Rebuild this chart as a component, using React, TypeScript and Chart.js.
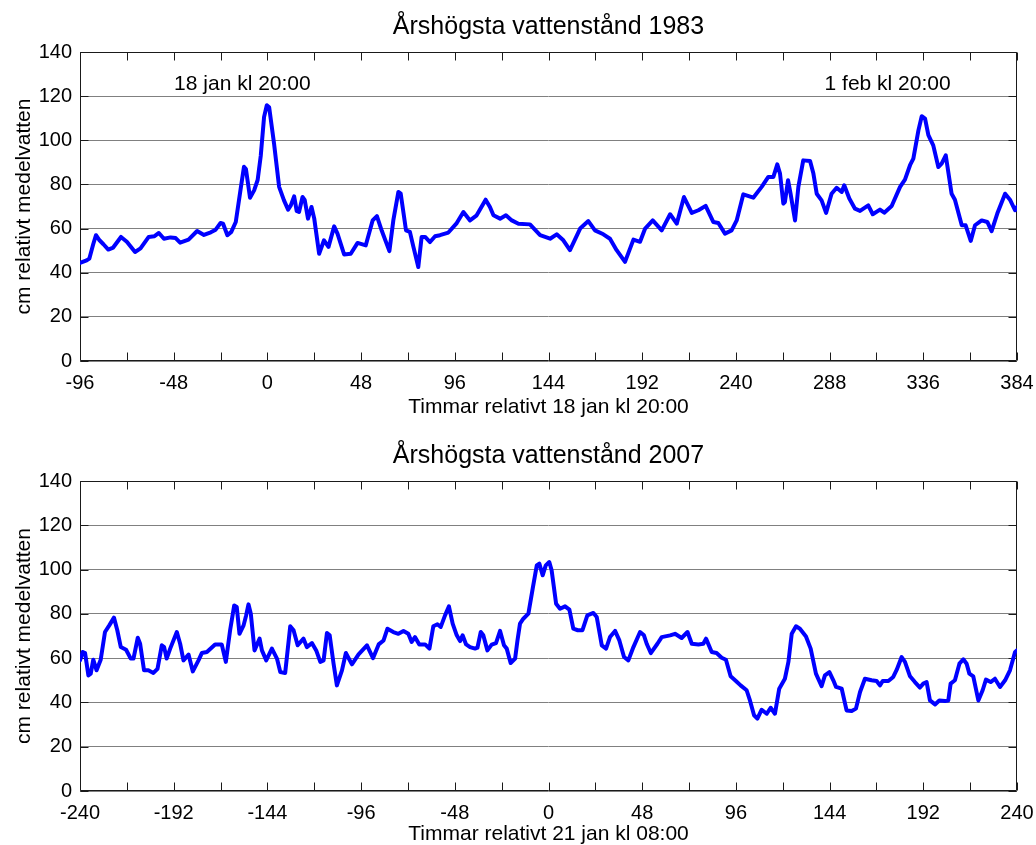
import React, { useEffect, useRef } from 'react';
import { Chart, registerables } from 'chart.js';

Chart.register(...registerables);

const FONT = '"Liberation Sans", Arial, Helvetica, sans-serif';

// ---- 1983 ----
const hours1983 = [
  -96, -92.6, -91.2, -89.2, -87.8, -86, -84, -81.5, -79, -75, -72, -67.8, -65, -60.8, -58, -55.6, -53, -49.6, -47,
  -44.7, -40.4, -36, -32.5, -29, -26.5, -24, -22.7, -20.5, -18.5, -16.2, -13.7, -12, -11, -8.9, -6.8, -5, -3.4, -1.7,
  -0.3, 0.9, 3.4, 6, 8.5, 10.6, 12, 13.7, 15, 16.2, 18, 19.1, 20.8, 22.6, 24, 26.5, 29, 31.3, 34.2, 35.9, 39.3, 42.7,
  46.2, 50.4, 53.9, 56.1, 58.6, 62.5, 64.5, 67.1, 68.3, 71, 73, 74.8, 77.3, 79, 80.8, 83.3, 85.9, 88.4, 92.7, 97,
  100.4, 103.8, 107.2, 111.8, 114, 115.8, 119.2, 122.2, 125.2, 128.6, 134.5, 139.7, 144.8, 148.2, 151.6, 155, 160.2,
  164.4, 167.8, 172.1, 175.5, 178.9, 183.2, 187.5, 190.9, 193.5, 197.4, 202, 206.3, 209.7, 213.4, 217.4, 220.8, 224.5,
  228.4, 231, 234.4, 237.8, 240.4, 243.8, 248.9, 253.2, 256.6, 259.2, 261.2, 262.6, 264.3, 265.1, 266.7, 268, 270.3,
  272, 274.5, 278, 279.7, 281.4, 283.9, 286.2, 289, 291.6, 294.2, 295.5, 298.1, 301, 303.6, 307.8, 310.1, 313.8, 316,
  319.8, 324.1, 326.6, 329.2, 330.9, 333.5, 335.2, 336.9, 338.6, 341.1, 343.7, 345.4, 347.5, 350.5, 352.2, 355.7,
  357.7, 360.3, 362.5, 365.9, 368.8, 371, 373.9, 377.9, 380.4, 383, 384,
];
const level1983 = [
  44.4, 45.6, 46.4, 53, 57, 54.7, 52.9, 50.5, 51.4, 56.2, 54, 49.4, 51, 56.2, 56.5, 58, 55.4, 56, 55.7,
  53.6, 55, 58.9, 57.1, 58.3, 59.5, 62.5, 62.2, 57, 58.5, 63, 78, 88, 87, 74, 77.3, 82, 93, 110.6,
  115.9, 115, 98.5, 78.9, 72.8, 68.6, 70.5, 74.6, 68, 67.5, 74.3, 73, 64.5, 69.8, 64.5, 48.6, 54.7, 51.7, 61, 57.7, 48.3, 48.6,
  53.5, 52.4, 63.7, 65.6, 59, 49.8, 63.7, 76.6, 75.8, 59.2, 58.5, 51.7, 42.6, 56.2, 56.2, 53.9, 56.5, 57, 58.2, 62.5,
  67.5, 63.7, 66, 73.1, 69.8, 66, 64.5, 66, 63.7, 62.2, 61.9, 57, 55.4, 57.4, 54.7, 50.2, 60,
  63.4, 59.2, 57.4, 55.4, 50.2, 44.9, 55, 54, 60, 63.7, 59.2, 66.5, 62.2, 74.3, 67.1, 68.3, 70.3,
  63, 62.5, 57.7, 59.2, 63.7, 75.5, 74, 78.9, 83.4, 83.4, 89.1, 84.9, 71.3, 72, 81.9, 75.8, 63.7,
  78.9, 90.9, 90.6, 84.9, 75.8, 72.8, 67.1, 75.8, 78.5, 76.6, 79.6, 73.6, 69, 68, 70.5, 66.5, 68.6, 67.2,
  70.2, 78.9, 82.2, 88.7, 91.7, 104.5, 110.9, 109.8, 102.3, 97.7, 87.9, 89.4, 93.2, 75.8, 73.1, 61.5,
  61.5, 54.4, 61.5, 63.7, 63, 58.8, 66.8, 75.8, 73.1, 68.3, 69.8,
];

// ---- 2007 ----
const hours2007 = [
  -240, -238.6, -237.4, -235.7, -234.5, -233.2, -231.5, -229.4, -227.2, -225, -222.6, -220.9, -219.1, -216.4, -214,
  -212.6, -210.4, -209.2, -207.2, -205, -202.4, -200.3, -198.1, -196.9, -195.6, -193.8, -190.4, -188.7, -187, -184.4,
  -182.2, -179.3, -177.6, -175, -170.8, -167.4, -165.3, -163.1, -161, -159.7, -158.3, -156.2, -154.9, -153.7, -152.5,
  -150.6, -148, -146.8, -144.6, -141.7, -139.1, -137.4, -134.9, -132.3, -130.6, -128.5, -125.5, -123.8, -121.2, -119,
  -116.9, -115.2, -113.5, -112.1, -110.1, -108.4, -105.8, -103.8, -100.7, -97.3, -93, -89.9, -87, -84.5, -82.5, -79.5,
  -76.9, -74.3, -71.8, -70.1, -68.4, -66.2, -63.2, -61, -59, -56.9, -55.2, -53, -51, -49.1, -47, -45.3, -44, -42.2,
  -40.2, -37.6, -36.4, -34.7, -33.4, -31.3, -29.1, -26.9, -24.8, -22.8, -21.4, -19.4, -17.1, -15.9, -14.6, -12.9,
  -10.3, -8.1, -6, -4.7, -3, -1.4, 0.4, 1.6, 3.9, 5.9, 8.5, 10.7, 12.7, 15, 17.4, 19.9, 23, 24.7, 27.3, 29.5, 31.5,
  34.1, 36.3, 38.7, 40.9, 43.5, 46.9, 48.9, 50.3, 52.4, 55.8, 58, 62.3, 64.8, 68.2, 71.2, 73.4, 76.8, 79.3, 80.7,
  83.6, 86.1, 88.7, 90.9, 93.3, 96, 98.4, 101.5, 103.2, 105.3, 107, 109.2, 111.8, 113.8, 116, 118.2, 121.1, 122.9,
  124.6, 126.8, 128.8, 131.9, 134.3, 137, 139.9, 141.6, 143.9, 145.9, 147.3, 150.2, 152.7, 155.3, 157.5, 159.6,
  162.1, 165.5, 168.1, 169.8, 171.2, 174.1, 176.6, 178.4, 180.9, 182.6, 185.2, 187.7, 190.3, 192, 193.7, 195.4, 198,
  200.2, 203.1, 204.8, 206, 208.2, 210.5, 212.5, 214.2, 215.6, 217.6, 220.2, 222.4, 224.1, 226.5, 228.7, 231.3,
  233.9, 236.4, 239, 240,
];
const level2007 = [
  59, 62.8, 62.3, 52.2, 53, 59.3, 54.5, 59.3, 71.8, 74.8, 78.3, 72.6, 65, 63.8, 59.8,
  59.8, 69.2, 66.5, 54.5, 54.5, 53.3, 55.2, 65.8, 65, 59.8, 64.3, 71.8, 66.5, 59, 61.6,
  54, 59, 62.3, 62.8, 66.2, 66.2, 58.3, 72.6, 83.8, 83.1, 71, 74.8, 79.3, 84.3, 80.1,
  63.5, 68.8, 63.5, 59, 64.3, 59.8, 53.7, 53.3, 74.4, 72.6, 65.8, 68.8, 65, 66.8, 63.5,
  58.3, 59, 71.4, 70.3, 57.5, 47.7, 54.5, 62.3, 57.2, 61.7, 65.8, 60, 66.2, 68, 73.3, 71.8,
  71, 72.3, 71, 67.3, 69.5, 66.2, 66.2, 64.3, 74.4, 75.3, 74.1, 79.3, 83.4, 75.6, 70.3, 67.7, 70.3, 66.2,
  65, 64.3, 64.7, 71.8, 70.3, 63.5, 66.1, 66.8, 72.3, 65.8, 64.3, 57.8, 59.8, 68, 75.6, 77.8,
  80.1, 91.4, 101.9, 102.7, 97.4, 101.9, 103.4, 99.7, 84.6, 82.3, 83.4, 81.9, 73.3, 72.6, 72.6, 79.3, 80.4, 78.6, 65.8, 64.3, 69.5,
  72.3, 68, 60.5, 59, 65, 71.8, 70.3, 66.5, 62.3, 66.5, 69.5, 70.3, 71, 69.1, 71.8, 66.5, 66.2, 66.5, 68.8,
  62.8, 62.3, 60.2, 59.3, 51.8, 49.7, 47.7, 45.5, 40.9, 34.2, 32.7, 36.7, 34.9, 37.6, 34.9, 46.2, 50.7, 58.3,
  71, 74.4, 73.3, 69.8, 64.3, 53, 47.3, 52.2, 53.7, 50, 47, 46.2, 36.4, 36.1, 37.2, 44.7,
  50.7, 50, 49.7, 47.7, 49.7, 49.7, 51.5, 54.8, 60.5, 58.3, 51.8, 49.2, 46.7, 48.5, 49.2, 40.9, 39.1,
  40.9, 40.6, 40.9, 48.5, 50, 57.5, 59.5, 57.5, 53, 51.8, 40.9, 45.5, 50.3, 49.2, 50.7, 47,
  50, 54.5, 62.8, 63.5,
];

// ---- axes / texts ----
const yTickValues = [0, 20, 40, 60, 80, 100, 120, 140];
const xRange1983 = [-96, 384];
const xRange2007 = [-240, 240];
const xMinorStep = 24;
const xLabelStep = 48;
const title1983 = 'Årshögsta vattenstånd 1983';
const title2007 = 'Årshögsta vattenstånd 2007';
const xLabel1983 = 'Timmar relativt 18 jan kl 20:00';
const xLabel2007 = 'Timmar relativt 21 jan kl 08:00';
const yLabel = 'cm relativt medelvatten';
const noteTexts1983 = ['18 jan kl 20:00', '1 feb kl 20:00'];
const noteHours1983 = [-12.8, 317.7];
const noteLevels1983 = [125.5, 125.5];

const framePlugin = {
  id: 'matlabFrame',
  beforeDatasetsDraw(chart: any) {
    const { ctx, chartArea, scales } = chart;
    const { left, right, top, bottom } = chartArea;
    const xs = scales.x;
    const ys = scales.y;
    ctx.save();
    ctx.strokeStyle = '#1a1a1a';
    ctx.lineWidth = 1;
    ctx.beginPath();
    const L = Math.round(left) + 0.5;
    const R = Math.round(right) - 0.5;
    const T = Math.round(top) + 0.5;
    const B = Math.round(bottom) - 0.5;
    ctx.rect(L, T, R - L, B - T);
    const tl = 8;
    for (let v = xs.min; v <= xs.max + 1e-6; v += xMinorStep) {
      const px = Math.round(xs.getPixelForValue(v)) + 0.5;
      ctx.moveTo(px, B);
      ctx.lineTo(px, B - tl);
      ctx.moveTo(px, T);
      ctx.lineTo(px, T + tl);
    }
    for (const v of yTickValues) {
      const py = Math.round(ys.getPixelForValue(v)) + 0.5;
      ctx.moveTo(L, py);
      ctx.lineTo(L + tl, py);
      ctx.moveTo(R, py);
      ctx.lineTo(R - tl, py);
    }
    ctx.stroke();
    ctx.restore();
  },
  afterDatasetsDraw(chart: any, _args: any, opts: any) {
    const { ctx, scales, chartArea } = chart;
    ctx.save();
    ctx.fillStyle = '#000';
    ctx.textAlign = 'center';
    ctx.textBaseline = 'middle';
    if (opts && opts.title) {
      ctx.font = `25px ${FONT}`;
      ctx.fillText(opts.title, (chartArea.left + chartArea.right) / 2, opts.titleY);
    }
    const notes = (opts && opts.notes) || [];
    ctx.font = `21px ${FONT}`;
    for (const n of notes) {
      ctx.fillText(n.text, scales.x.getPixelForValue(n.x), scales.y.getPixelForValue(n.y));
    }
    ctx.restore();
  },
};

type PanelProps = {
  hours: number[];
  levels: number[];
  xRange: number[];
  title: string;
  xLabel: string;
  height: number;
  plotTop: number;
  titleY: number;
  xAxisHeight: number;
  xTitlePadBottom: number;
  notes: { text: string; x: number; y: number }[];
};

function Panel(p: PanelProps) {
  const ref = useRef<HTMLCanvasElement>(null);
  useEffect(() => {
    const canvas = ref.current!;
    const chart = new Chart(canvas, {
      type: 'line',
      data: {
        datasets: [
          {
            data: p.hours.map((h, i) => ({ x: h, y: p.levels[i] })),
            borderColor: '#0000ff',
            borderWidth: 4,
            pointRadius: 0,
            tension: 0,
            fill: false,
            borderJoinStyle: 'round',
            borderCapStyle: 'round',
          } as any,
        ],
      },
      options: {
        animation: false,
        responsive: false,
        devicePixelRatio: 1,
        layout: { padding: { left: 0, right: 19, top: p.plotTop, bottom: 0 } },
        plugins: {
          legend: { display: false },
          tooltip: { enabled: false },
          title: { display: false },
          matlabFrame: { notes: p.notes, title: p.title, titleY: p.titleY },
        } as any,
        scales: {
          x: {
            type: 'linear',
            min: p.xRange[0],
            max: p.xRange[1],
            grid: { display: false },
            border: { display: false },
            ticks: {
              stepSize: xMinorStep,
              autoSkip: false,
              maxRotation: 0,
              minRotation: 0,
              padding: 2,
              color: '#000',
              font: { family: FONT, size: 20 },
              callback: (v: any) => (Math.abs(Number(v) % xLabelStep) < 1e-6 ? String(v) : ''),
            },
            title: {
              display: true,
              text: p.xLabel,
              color: '#000',
              font: { family: FONT, size: 21, lineHeight: 1 },
              padding: { top: 0, bottom: p.xTitlePadBottom },
            },
            afterFit: (s: any) => {
              s.height = p.xAxisHeight;
              s.paddingLeft = 0;
              s.paddingRight = 0;
            },
          },
          y: {
            type: 'linear',
            min: 0,
            max: 140,
            grid: { color: '#808080', lineWidth: 1, drawTicks: false },
            border: { display: false },
            ticks: {
              stepSize: 20,
              padding: 8,
              color: '#000',
              font: { family: FONT, size: 20 },
            },
            title: {
              display: true,
              text: yLabel,
              color: '#000',
              font: { family: FONT, size: 21, lineHeight: 1 },
              padding: { top: 14, bottom: 0 },
            },
            afterFit: (s: any) => {
              s.width = 80;
              s.paddingTop = 0;
              s.paddingBottom = 0;
            },
          },
        },
      } as any,
      plugins: [framePlugin as any],
    });
    return () => chart.destroy();
  }, []);
  return (
    <canvas
      ref={ref}
      width={1036}
      height={p.height}
      style={{ display: 'block', width: '1036px', height: `${p.height}px` }}
    />
  );
}

export default function App() {
  useEffect(() => {
    document.body.style.margin = '0';
  }, []);
  const notes1983 = noteTexts1983.map((t, i) => ({ text: t, x: noteHours1983[i], y: noteLevels1983[i] }));
  return (
    <div style={{ position: 'absolute', left: 0, top: 0, width: 1036, height: 845, background: '#fff' }}>
      <Panel
        hours={hours1983}
        levels={level1983}
        xRange={xRange1983}
        title={title1983}
        xLabel={xLabel1983}
        height={422}
        plotTop={52}
        titleY={27}
        xAxisHeight={61}
        xTitlePadBottom={4.5}
        notes={notes1983}
      />
      <Panel
        hours={hours2007}
        levels={level2007}
        xRange={xRange2007}
        title={title2007}
        xLabel={xLabel2007}
        height={423}
        plotTop={59}
        titleY={34}
        xAxisHeight={54}
        xTitlePadBottom={0.5}
        notes={[]}
      />
    </div>
  );
}
